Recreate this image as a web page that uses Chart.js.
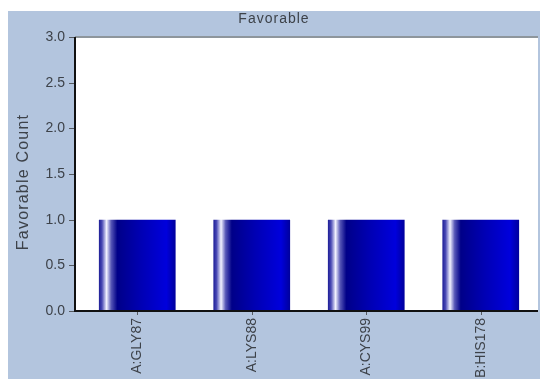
<!DOCTYPE html>
<html>
<head>
<meta charset="utf-8">
<script src="https://cdn.jsdelivr.net/npm/chart.js@4/dist/chart.umd.min.js"></script>
<style>
  html, body { margin: 0; padding: 0; background: #ffffff; }
  #frame { position: absolute; left: 8px; top: 11px; width: 532px; height: 368px; background: #b3c5de; }
  canvas { display: block; }
</style>
</head>
<body>
<div id="frame"><canvas id="c" width="532" height="368"></canvas></div>
<script>
// Residue categories and their favorable-contact counts
const residues = ['A:GLY87', 'A:LYS88', 'A:CYS99', 'B:HIS178'];
const favorableCounts = [1.0, 1.0, 1.0, 1.0];
const yTicks = [0, 0.5, 1.0, 1.5, 2.0, 2.5, 3.0];

const BAR_FRACTION = 0.67;
const TEXT = '#3d4249';
const FONT = '"Liberation Sans", Arial, sans-serif';

// Horizontal cylinder-style shading across each bar
function barShade(ctx) {
  const chart = ctx.chart;
  const xs = chart.scales && chart.scales.x;
  if (!xs || !chart.chartArea || ctx.dataIndex === undefined) return '#0000a8';
  const cx = xs.getPixelForValue(ctx.dataIndex);
  const w = xs.width / residues.length * BAR_FRACTION;
  const left = cx - w / 2, right = cx + w / 2;
  if (!isFinite(left) || !isFinite(right)) return '#0000a8';
  const g = chart.ctx.createLinearGradient(left, 0, right, 0);
  g.addColorStop(0.00, '#1c1c96');
  g.addColorStop(0.04, '#4848b4');
  g.addColorStop(0.10, '#f2f2ff');
  g.addColorStop(0.16, '#5656b6');
  g.addColorStop(0.24, '#000088');
  g.addColorStop(0.55, '#0000b4');
  g.addColorStop(0.88, '#0000dc');
  g.addColorStop(1.00, '#00009c');
  return g;
}

const frameDecor = {
  id: 'frameDecor',
  beforeDraw(chart) {
    const { ctx, chartArea: a } = chart;
    ctx.save();
    // white plotting area, extending slightly left of the first category
    ctx.fillStyle = '#ffffff';
    ctx.fillRect(a.left - 5, a.top, a.right - a.left + 5, a.bottom - a.top);
    // gray top border of the plotting area
    ctx.strokeStyle = '#8e969c';
    ctx.lineWidth = 2;
    ctx.beginPath();
    ctx.moveTo(a.left - 5, a.top);
    ctx.lineTo(a.right, a.top);
    ctx.stroke();
    ctx.restore();
  },
  afterDraw(chart) {
    const { ctx, chartArea: a } = chart;
    const ys = chart.scales.y, xs = chart.scales.x;
    const axisX = a.left - 5;
    ctx.save();
    // chart title
    ctx.fillStyle = TEXT;
    ctx.font = '14px ' + FONT;
    ctx.letterSpacing = '1px';
    ctx.textAlign = 'center';
    ctx.textBaseline = 'middle';
    ctx.fillText('Favorable', chart.width / 2, 8);
    // vertical axis title
    ctx.save();
    ctx.font = '16px ' + FONT;
    ctx.letterSpacing = '1.2px';
    ctx.translate(16, 171);
    ctx.rotate(-Math.PI / 2);
    ctx.fillText('Favorable Count', 0, 0);
    ctx.restore();
    ctx.letterSpacing = '0px';
    // tick marks
    ctx.strokeStyle = '#555a60';
    ctx.lineWidth = 1;
    ctx.beginPath();
    yTicks.forEach(v => {
      const y = Math.round(ys.getPixelForValue(v)) + 0.5;
      ctx.moveTo(axisX - 6, y);
      ctx.lineTo(axisX, y);
    });
    residues.forEach((_, i) => {
      const x = Math.round(xs.getPixelForValue(i)) + 0.5;
      ctx.moveTo(x, a.bottom);
      ctx.lineTo(x, a.bottom + 4);
    });
    ctx.stroke();
    // axis lines
    ctx.strokeStyle = '#111111';
    ctx.lineWidth = 2;
    ctx.beginPath();
    ctx.moveTo(axisX, a.top);
    ctx.lineTo(axisX, a.bottom);
    ctx.lineTo(a.right, a.bottom);
    ctx.stroke();
    ctx.restore();
  }
};

new Chart(document.getElementById('c'), {
  type: 'bar',
  data: {
    labels: residues,
    datasets: [{
      label: 'Favorable',
      data: favorableCounts,
      backgroundColor: barShade,
      borderWidth: 0,
      categoryPercentage: 1.0,
      barPercentage: BAR_FRACTION
    }]
  },
  options: {
    responsive: false,
    animation: false,
    layout: { padding: { top: 26, right: 2, left: 0, bottom: 0 } },
    plugins: { legend: { display: false }, tooltip: { enabled: false }, title: { display: false } },
    scales: {
      x: {
        grid: { display: false, drawTicks: false },
        border: { display: false },
        ticks: {
          color: TEXT,
          font: { family: FONT, size: 14 },
          maxRotation: 90, minRotation: 90,
          padding: 7
        },
        afterFit(scale) { scale.height = 68; }
      },
      y: {
        min: 0, max: 3,
        afterBuildTicks(scale) { scale.ticks = yTicks.map(v => ({ value: v })); },
        grid: { display: false, drawTicks: false },
        border: { display: false },
        ticks: {
          color: TEXT,
          font: { family: FONT, size: 14 },
          padding: 15,
          callback: v => Number(v).toFixed(1)
        },
        afterFit(scale) { scale.width = 72; }
      }
    }
  },
  plugins: [frameDecor]
});
</script>
</body>
</html>
